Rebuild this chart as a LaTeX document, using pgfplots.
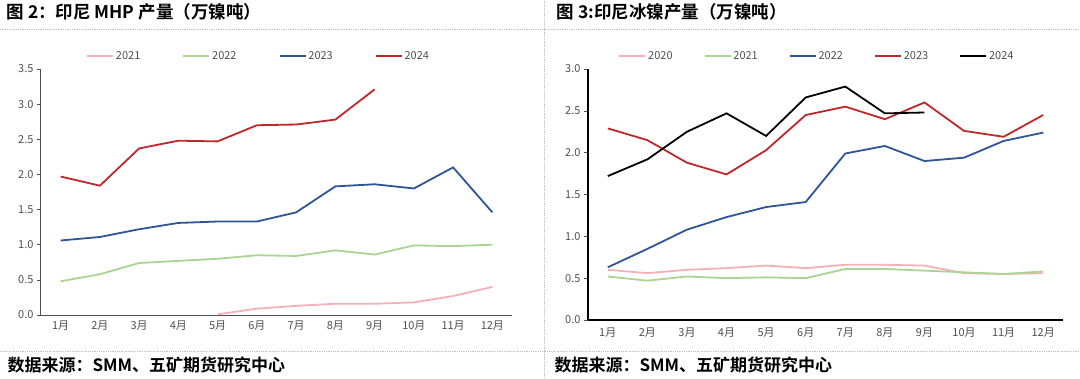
\documentclass[border=0pt]{standalone}
\usepackage{pgfplots}
\pgfplotsset{compat=1.18}
\usepackage{fontspec}
\setmainfont{Noto Sans CJK SC}
\newfontfamily\cjkbold{Noto Sans CJK SC Bold}
\definecolor{cpink}{RGB}{244,177,183}
\definecolor{cgreen}{RGB}{169,212,146}
\definecolor{cblue}{RGB}{47,85,151}
\definecolor{cred}{RGB}{192,39,45}
\definecolor{tickgray}{RGB}{80,80,80}
\begin{document}
\begin{tikzpicture}[x=1pt,y=1pt]
\path[use as bounding box,fill=white] (0pt,0pt) rectangle (1080pt,378pt);
% separators
\draw[gray!50,densely dotted,line width=0.8pt] (0pt,349pt) -- (1080pt,349pt);
\draw[gray!50,densely dotted,line width=0.8pt] (0pt,27pt) -- (1080pt,27pt);
\draw[gray!50,densely dotted,line width=0.8pt] (544pt,0pt) -- (544pt,378pt);
% titles
\node[anchor=west,font=\cjkbold\fontsize{17.5}{17.5}\selectfont] at (3pt,366pt) {图 2：印尼 MHP 产量（万镍吨）};
\node[anchor=west,font=\cjkbold\fontsize{17.5}{17.5}\selectfont] at (553pt,366pt) {图 3:印尼冰镍产量（万镍吨）};
\node[anchor=west,font=\cjkbold\fontsize{17}{17}\selectfont] at (4pt,13pt) {数据来源：SMM、五矿期货研究中心};
\node[anchor=west,font=\cjkbold\fontsize{17}{17}\selectfont] at (551pt,13pt) {数据来源：SMM、五矿期货研究中心};
\pgfplotsset{
  common/.style={
    scale only axis,
    axis lines=left,
    axis line style={-},
    xmin=0.5, xmax=12.5,
    ymin=0,
    xtick={1,...,12},
    xticklabels={1月,2月,3月,4月,5月,6月,7月,8月,9月,10月,11月,12月},
    xtick style={draw=none},
    ytick style={draw=tickgray,line width=0.6pt},
    tick align=outside,
    major tick length=4pt,
    ticklabel style={font=\fontsize{11}{11}\selectfont,text=tickgray},
    /pgf/number format/assume math mode=true,
    yticklabel style={/pgf/number format/fixed,/pgf/number format/fixed zerofill,/pgf/number format/precision=1},
    legend columns=-1,
    legend style={draw=none,fill=none,font=\fontsize{11}{11}\selectfont,text=tickgray},
    legend image code/.code={\draw[##1] (0pt,0pt) -- (26pt,0pt);},
    every axis plot/.append style={line width=1.8pt,mark=none},
  }
}
\begin{axis}[common,
  at={(41pt,63pt)}, anchor=south west,
  width=471pt, height=246pt,
  ymax=3.5, ytick={0,0.5,...,3.5},
  axis line style={draw=tickgray,line width=1pt},
  xticklabel style={yshift=2pt},
  legend style={at={(0.462,1.053)},anchor=center,/tikz/every even column/.append style={column sep=40pt}},
]
\addplot[cpink] coordinates {(5,0.01)(6,0.09)(7,0.13)(8,0.16)(9,0.16)(10,0.18)(11,0.27)(12,0.40)};
\addlegendentry{2021}
\addplot[cgreen] coordinates {(1,0.48)(2,0.58)(3,0.74)(4,0.77)(5,0.80)(6,0.85)(7,0.84)(8,0.92)(9,0.86)(10,0.99)(11,0.98)(12,1.00)};
\addlegendentry{2022}
\addplot[cblue] coordinates {(1,1.06)(2,1.11)(3,1.22)(4,1.31)(5,1.33)(6,1.33)(7,1.46)(8,1.83)(9,1.86)(10,1.80)(11,2.10)(12,1.46)};
\addlegendentry{2023}
\addplot[cred] coordinates {(1,1.97)(2,1.84)(3,2.37)(4,2.48)(5,2.47)(6,2.70)(7,2.71)(8,2.78)(9,3.21)};
\addlegendentry{2024}
\end{axis}
\begin{axis}[common,
  at={(588pt,58pt)}, anchor=south west,
  width=475pt, height=251pt,
  ymax=3.0, ytick={0,0.5,...,3.0},
  axis line style={draw=black,line width=1.6pt},
  legend style={at={(0.482,1.052)},anchor=center,/tikz/every even column/.append style={column sep=29pt}},
]
\addplot[cpink] coordinates {(1,0.60)(2,0.56)(3,0.60)(4,0.62)(5,0.65)(6,0.62)(7,0.66)(8,0.66)(9,0.65)(10,0.56)(11,0.55)(12,0.56)};
\addlegendentry{2020}
\addplot[cgreen] coordinates {(1,0.52)(2,0.47)(3,0.52)(4,0.50)(5,0.51)(6,0.50)(7,0.61)(8,0.61)(9,0.59)(10,0.57)(11,0.55)(12,0.58)};
\addlegendentry{2021}
\addplot[cblue] coordinates {(1,0.63)(2,0.85)(3,1.08)(4,1.23)(5,1.35)(6,1.41)(7,1.99)(8,2.08)(9,1.90)(10,1.94)(11,2.14)(12,2.24)};
\addlegendentry{2022}
\addplot[cred] coordinates {(1,2.29)(2,2.15)(3,1.88)(4,1.74)(5,2.03)(6,2.45)(7,2.55)(8,2.40)(9,2.60)(10,2.26)(11,2.19)(12,2.45)};
\addlegendentry{2023}
\addplot[black] coordinates {(1,1.72)(2,1.92)(3,2.25)(4,2.47)(5,2.20)(6,2.66)(7,2.79)(8,2.47)(9,2.48)};
\addlegendentry{2024}
\end{axis}
\end{tikzpicture}
\end{document}
